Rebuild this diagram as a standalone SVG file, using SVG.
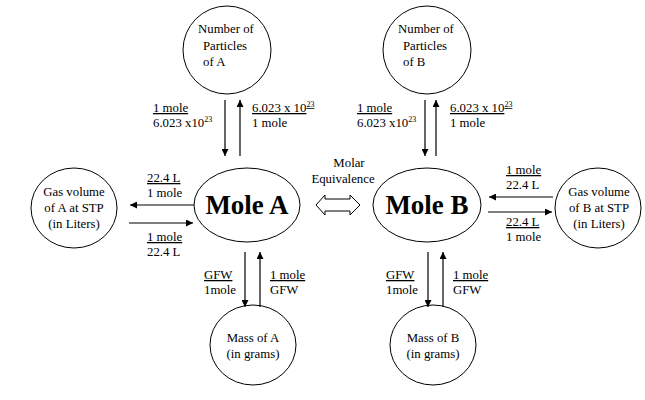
<svg xmlns="http://www.w3.org/2000/svg" width="645" height="400" viewBox="0 0 645 400">
<style>
text{font-family:"Liberation Serif","Times New Roman",serif;font-size:12.8px;fill:#000}
.u{text-decoration:underline}
.big{font-size:27px;font-weight:bold}
ellipse{fill:#fff;stroke:#000;stroke-width:1}
.c line{stroke:#000;stroke-width:1.2;marker-end:url(#ah)}
</style>
<defs><marker id="ah" viewBox="0 0 10 10" refX="10" refY="5" markerWidth="7" markerHeight="7" orient="auto" markerUnits="userSpaceOnUse"><path d="M0,0L10,5L0,10z" fill="#000"/></marker></defs>
<rect width="645" height="400" fill="#fff"/>
<g id="partA"><ellipse cx="227" cy="50" rx="44" ry="44"/><text x="198" y="33">Number of</text><text x="203" y="50">Particles</text><text x="203" y="66">of A</text></g>
<g id="partB"><ellipse cx="427" cy="50" rx="44" ry="44"/><text x="398" y="33">Number of</text><text x="403" y="50">Particles</text><text x="403" y="66">of B</text></g>
<g id="moleA"><ellipse cx="247" cy="205" rx="53" ry="37"/><text class="big" x="247" y="214" text-anchor="middle">Mole A</text></g>
<g id="moleB"><ellipse cx="427" cy="205" rx="54" ry="37"/><text class="big" x="427" y="214" text-anchor="middle">Mole B</text></g>
<g id="gasA"><ellipse cx="74" cy="208" rx="43" ry="40"/><text x="74" y="196" text-anchor="middle">Gas volume</text><text x="74" y="212" text-anchor="middle">of A at STP</text><text x="74" y="228" text-anchor="middle">(in Liters)</text></g>
<g id="gasB"><ellipse cx="598" cy="208" rx="43" ry="40"/><text x="599" y="196" text-anchor="middle">Gas volume</text><text x="599" y="212" text-anchor="middle">of B at STP</text><text x="599" y="228" text-anchor="middle">(in Liters)</text></g>
<g id="massA"><ellipse cx="253" cy="345" rx="43" ry="40"/><text x="253" y="342" text-anchor="middle">Mass of A</text><text x="253" y="358" text-anchor="middle">(in grams)</text></g>
<g id="massB"><ellipse cx="433" cy="345" rx="43" ry="40"/><text x="433" y="342" text-anchor="middle">Mass of B</text><text x="433" y="358" text-anchor="middle">(in grams)</text></g>
<g id="equiv"><text x="349" y="167" text-anchor="middle">Molar</text><text x="343" y="183" text-anchor="middle">Equivalence</text>
<path d="M316,205L325,195V199H350V195L360,205L350,215V211H325V215Z" fill="#fff" stroke="#000"/></g>
<g class="c" id="connectors">
<line x1="225" y1="100" x2="225" y2="156"/><line x1="240" y1="156" x2="240" y2="100"/>
<line x1="425" y1="100" x2="425" y2="156"/><line x1="436" y1="156" x2="436" y2="100"/>
<line x1="245" y1="252" x2="245" y2="307"/><line x1="260" y1="307" x2="260" y2="252"/>
<line x1="428" y1="252" x2="428" y2="307"/><line x1="443" y1="307" x2="443" y2="252"/>
<line x1="194" y1="205" x2="130" y2="205"/><line x1="129" y1="223" x2="193" y2="223"/>
<line x1="553" y1="197" x2="489" y2="197"/><line x1="488" y1="212" x2="552" y2="212"/>
</g>
<g id="labels">
<text class="u" x="153" y="112">1 mole</text><text x="153" y="127">6.023 x10<tspan font-size="8" dy="-5">23</tspan></text>
<text class="u" x="252" y="112">6.023 x 10<tspan font-size="8" dy="-5">23</tspan></text><text x="252" y="127">1 mole</text>
<text class="u" x="357" y="112">1 mole</text><text x="357" y="127">6.023 x10<tspan font-size="8" dy="-5">23</tspan></text>
<text class="u" x="450" y="112">6.023 x 10<tspan font-size="8" dy="-5">23</tspan></text><text x="450" y="127">1 mole</text>
<text class="u" x="147" y="182">22.4 L</text><text x="147" y="197">1 mole</text>
<text class="u" x="147" y="241">1 mole</text><text x="147" y="256">22.4 L</text>
<text class="u" x="506" y="174">1 mole</text><text x="506" y="189">22.4 L</text>
<text class="u" x="506" y="226">22.4 L</text><text x="506" y="241">1 mole</text>
<text class="u" x="204" y="279">GFW</text><text x="204" y="294">1mole</text>
<text class="u" x="270" y="279">1 mole</text><text x="270" y="294">GFW</text>
<text class="u" x="386" y="279">GFW</text><text x="386" y="294">1mole</text>
<text class="u" x="453" y="279">1 mole</text><text x="453" y="294">GFW</text>
</g>
</svg>
